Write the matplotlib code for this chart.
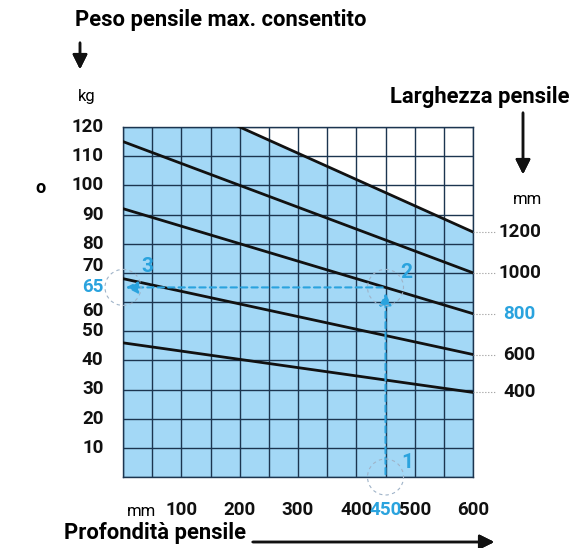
import numpy as np
import matplotlib.pyplot as plt
from matplotlib.patches import Ellipse

# Data
widths = [400, 600, 800, 1000, 1200]          # larghezza pensile (mm)
load_at_0 = [46, 68, 92, 115, 138]            # kg at depth 0 mm
load_at_600 = [29, 42, 56, 70, 84]            # kg at depth 600 mm
x_labels = [100, 200, 300, 400, 450, 500, 600]
y_labels = [10, 20, 30, 40, 50, 60, 65, 70, 80, 90, 100, 110, 120]
grid_x = list(range(0, 601, 50))
grid_y = list(range(0, 121, 10))
example_depth = 450
example_width = 800
example_load = 65

BLUE = "#2aa3de"
FILL = "#a3d8f6"
GRID = "#1c3550"
NUM = dict(fontfamily="Roboto", fontweight="bold")
REG = dict(fontfamily="Roboto")
TITLE = dict(fontfamily="Roboto", fontweight="bold")
# the crowded labels near 65 are pushed apart a little (points)
y_nudge = {70: 5, 60: -6.5}

fig = plt.figure(figsize=(5.71, 5.48), dpi=100)
ax = fig.add_axes([123 / 571, 1 - 477 / 548, 350 / 571, 350 / 548])
ax.set_xlim(0, 600)
ax.set_ylim(0, 120)

# blue area under the 1200 mm line
xs = np.linspace(0, 600, 200)
top = np.minimum(np.interp(xs, [0, 600], [load_at_0[-1], load_at_600[-1]]), 120)
ax.fill_between(xs, 0, top, color=FILL, zorder=0, lw=0)

# grid
for gx in grid_x:
    ax.axvline(gx, color=GRID, lw=1.0, zorder=1)
for gy in grid_y:
    ax.axhline(gy, color=GRID, lw=1.0, zorder=1)
ax.set_xticks([])
ax.set_yticks([])
for s in ax.spines.values():
    s.set_color(GRID)
    s.set_linewidth(1.0)

# y labels
for v in y_labels:
    ax.annotate(str(v), xy=(0, v), xytext=(-14, y_nudge.get(v, 0)),
                textcoords="offset points", ha="right", va="center",
                fontsize=13.5, annotation_clip=False,
                color=BLUE if v == example_load else "#111111", **NUM)

# x labels
for v in x_labels:
    ax.annotate(str(v), xy=(v, 0), xytext=(0, -24), textcoords="offset points",
                ha="center", va="center", fontsize=13.5, annotation_clip=False,
                color=BLUE if v == example_depth else "#111111", **NUM)

# width lines
for w, a, b in zip(widths, load_at_0, load_at_600):
    ax.plot([0, 600], [a, b], color="#111111", lw=2, zorder=3)
    ax.plot([600, 640], [b, b], color="#999999", lw=0.8, ls=":",
            clip_on=False, zorder=3)
    ax.text(680, b, str(w), ha="center", va="center", fontsize=13.5,
            color=BLUE if w == example_width else "#111111", **NUM)

# example path
ax.annotate("", xy=(example_depth, example_load - 1), xytext=(example_depth, 0),
            arrowprops=dict(arrowstyle="-|>", color=BLUE, lw=1.5,
                            ls=(0, (3, 2)), mutation_scale=18), zorder=4)
ax.annotate("", xy=(0, example_load), xytext=(example_depth, example_load),
            arrowprops=dict(arrowstyle="-|>", color=BLUE, lw=1.5,
                            ls=(0, (3, 2)), mutation_scale=18), zorder=4)
r = 18
for (cx, cy), num, dx, dy in [((example_depth, 0), "1", 38, 5),
                              ((example_depth, example_load), "2", 36, 5),
                              ((0, example_load), "3", 41, 7)]:
    ax.add_patch(Ellipse((cx, cy), 2 * r * 600 / 350, 2 * r * 120 / 350,
                         fill=False, ec="#9fb3c8", lw=0.8, ls=(0, (3, 3)),
                         clip_on=False, zorder=4))
    ax.text(cx + dx, cy + dy, num, color=BLUE, fontsize=15, ha="center",
            va="center", **NUM)

# titles and arrows
fig.text(75 / 571, 1 - 20 / 548, "Peso pensile max. consentito", fontsize=15.8,
         va="center", ha="left", **TITLE)
fig.text(87 / 571, 1 - 97 / 548, "kg", fontsize=12, va="center", ha="center", **REG)
fig.text(569 / 571, 1 - 97 / 548, "Larghezza pensile", fontsize=15.8,
         va="center", ha="right", **TITLE)
fig.text(528 / 571, 1 - 200 / 548, "mm", fontsize=12, va="center", ha="center", **REG)
fig.text(141 / 571, 1 - 511 / 548, "mm", fontsize=12, va="center", ha="center", **REG)
fig.text(64 / 571, 1 - 533 / 548, "Profondità pensile", fontsize=15.8,
         va="center", ha="left", **TITLE)
fig.text(41 / 571, 1 - 188 / 548, "o", fontsize=13, va="center", ha="center", **TITLE)

arrow = dict(arrowstyle="-|>", color="#111111", lw=1.8, mutation_scale=22)
for (x0, y0), (x1, y1) in [((80, 40), (80, 72)), ((523, 110), (523, 177)),
                           ((250, 542), (497, 542))]:
    fig.add_artist(plt.annotate("", xy=(x1 / 571, 1 - y1 / 548), xycoords="figure fraction",
                                xytext=(x0 / 571, 1 - y0 / 548), textcoords="figure fraction",
                                arrowprops=arrow))

fig.savefig("out.png", dpi=100)
